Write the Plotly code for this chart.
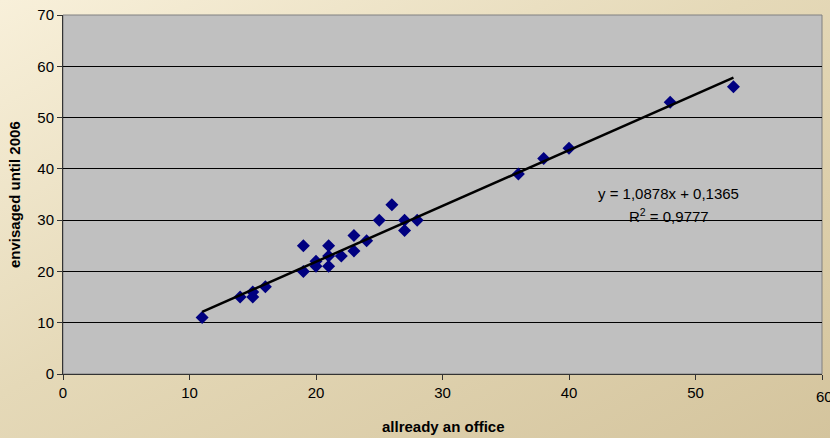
import base64
import numpy as np
import plotly.graph_objects as go

# ---- data ----
x_office = [11, 14, 15, 15, 16, 19, 19, 20, 20, 21, 21, 21, 22, 23, 23, 24, 25, 26, 27, 27, 28, 36, 38, 40, 48, 53]
y_envisaged = [11, 15, 16, 15, 17, 25, 20, 22, 21, 25, 23, 21, 23, 27, 24, 26, 30, 33, 30, 28, 30, 39, 42, 44, 53, 56]
slope = 1.0878
intercept = 0.1365
r_squared = 0.9777
x_ticks = [0, 10, 20, 30, 40, 50, 60]
y_ticks = [0, 10, 20, 30, 40, 50, 60, 70]
x_title = "allready an office"
y_title = "envisaged until 2006"

W, H = 830, 438
ML, MR, MT, MB = 63, 8, 15, 64
PW, PH = W - ML - MR, H - MT - MB

svg = f'''<svg xmlns="http://www.w3.org/2000/svg" width="{W}" height="{H}" viewBox="0 0 {W} {H}" preserveAspectRatio="none">
<defs><linearGradient id="g" x1="0" y1="0" x2="1" y2="1">
<stop offset="0" stop-color="#F8F0DA"/><stop offset="0.45" stop-color="#E5D9B8"/><stop offset="1" stop-color="#D4C49D"/>
</linearGradient></defs><rect x="0" y="0" width="{W}" height="{H}" fill="url(#g)"/></svg>'''
src = "data:image/svg+xml;base64," + base64.b64encode(svg.encode()).decode()

tx = np.array([min(x_office), max(x_office)], dtype=float)
ty = slope * tx + intercept

fig = go.Figure()
fig.add_trace(go.Scatter(x=x_office, y=y_envisaged, mode="markers",
                         marker=dict(symbol="diamond", size=10, color="#000080",
                                     line=dict(width=0)), showlegend=False, cliponaxis=False))
fig.add_trace(go.Scatter(x=tx, y=ty, mode="lines",
                         line=dict(color="black", width=2.5), showlegend=False))

fig.add_layout_image(dict(source=src, xref="paper", yref="paper",
                          x=-ML / PW, y=1 + MT / PH, sizex=W / PW, sizey=H / PH,
                          sizing="stretch", layer="below", xanchor="left", yanchor="top"))
fig.add_shape(type="rect", xref="x domain", yref="y domain", x0=0, x1=1, y0=0, y1=1,
              fillcolor="#C0C0C0", line=dict(color="#808080", width=1), layer="below")

fnt = dict(family="Liberation Sans, Arial, sans-serif", size=15, color="black")
fig.add_annotation(x=47.9, y=35.1, xref="x", yref="y",
                   text=f"y = {str(slope).replace('.', ',')}x + {str(intercept).replace('.', ',')}",
                   showarrow=False, font=fnt)
fig.add_annotation(x=47.9, y=31.0, xref="x", yref="y",
                   text=f"R<sup>2</sup> = {str(r_squared).replace('.', ',')}",
                   showarrow=False, font=fnt)
fig.add_annotation(x=(443 - ML) / PW, y=-(426 - (H - MB)) / PH, xref="paper", yref="paper",
                   text=f"<b>{x_title}</b>", showarrow=False, font=fnt,
                   xanchor="center", yanchor="middle")
fig.add_annotation(x=(14 - ML) / PW, y=((H - MB) - 194) / PH, xref="paper", yref="paper",
                   text=f"<b>{y_title}</b>", showarrow=False, font=fnt, textangle=-90,
                   xanchor="center", yanchor="middle")
# last x tick label (partly cut at the right edge in the reference)
last_x = x_ticks[-1]
fig.add_annotation(x=last_x, y=-(396 - (H - MB)) / PH, xref="x", yref="paper",
                   text=str(last_x), showarrow=False, font=fnt,
                   xanchor="left", xshift=-8, yanchor="middle")

x_ticktext = [str(v) for v in x_ticks[:-1]] + [""]

fig.update_layout(
    width=W, height=H,
    margin=dict(l=ML, r=MR, t=MT, b=MB, autoexpand=False),
    paper_bgcolor="rgba(0,0,0,0)", plot_bgcolor="rgba(0,0,0,0)",
    font=fnt,
    xaxis=dict(range=[0, 60], tickvals=x_ticks, ticktext=x_ticktext, showgrid=False, zeroline=False,
               showline=True, linecolor="#333333", linewidth=1,
               ticks="outside", ticklen=5, tickcolor="#333333",
               tickfont=fnt, automargin=False),
    yaxis=dict(range=[0, 70], tickvals=y_ticks, showgrid=True, gridcolor="black", gridwidth=1,
               zeroline=False, showline=True, linecolor="#333333", linewidth=1,
               ticks="outside", ticklen=5, tickcolor="#333333",
               tickfont=fnt, automargin=False),
)

fig.write_html("out.html", config={"displayModeBar": False},
               post_script="document.body.style.margin='0';")
